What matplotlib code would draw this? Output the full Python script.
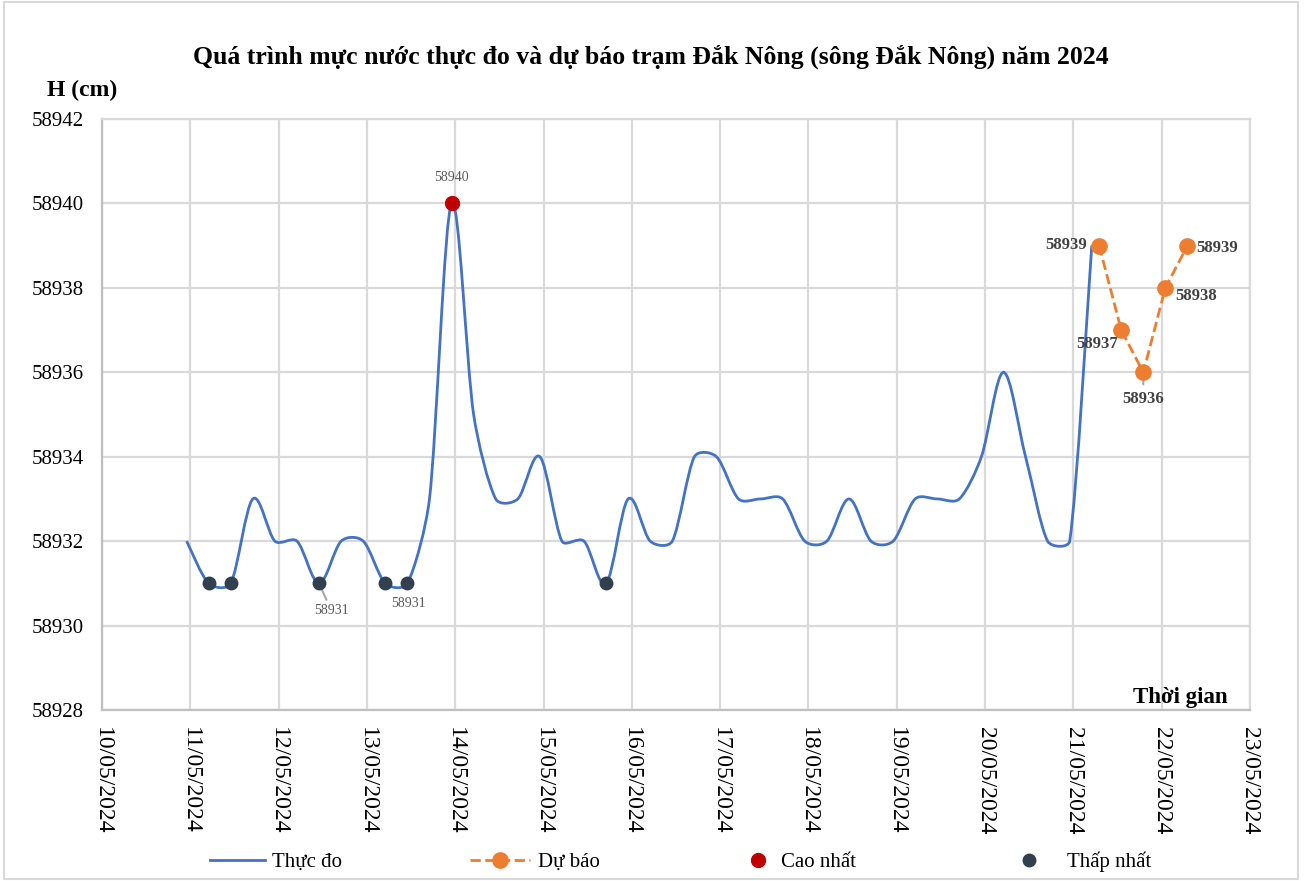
import numpy as np
import pandas as pd
import matplotlib
matplotlib.use("Agg")
from matplotlib import pyplot as plt
import matplotlib.dates as mdates
from matplotlib.path import Path
from matplotlib.patches import PathPatch, Rectangle
from matplotlib.lines import Line2D

plt.rcParams['font.family'] = ['Liberation Serif', 'DejaVu Serif']

# observed water level, every 6 hours
obs_start = "2024-05-10 23:00"
obs_values = [58932, 58931, 58931, 58933, 58932, 58932, 58931, 58932, 58932, 58931,
              58931, 58933, 58940, 58935, 58933, 58933, 58934, 58932, 58932, 58931,
              58933, 58932, 58932, 58934, 58934, 58933, 58933, 58933, 58932, 58932,
              58933, 58932, 58932, 58933, 58933, 58933, 58934, 58936, 58934, 58932,
              58932, 58939]

# forecast
fc_start = "2024-05-21 07:00"
fc_values = [58939, 58937, 58936, 58938, 58939]

title = "Quá trình mực nước thực đo và dự báo trạm Đắk Nông (sông Đắk Nông) năm 2024"
legend_labels = ["Thực đo", "Dự báo", "Cao nhất", "Thấp nhất"]

obs_t = pd.date_range(obs_start, periods=len(obs_values), freq="6h")
fc_t = pd.date_range(fc_start, periods=len(fc_values), freq="6h")
obs_x = mdates.date2num(obs_t.to_pydatetime())
fc_x = mdates.date2num(fc_t.to_pydatetime())
obs_y = np.array(obs_values, dtype=float)

blue = "#4472C4"
orange = "#ED7D31"
red = "#C00000"
dark = "#323F4F"

fig = plt.figure(figsize=(13.05, 8.81), dpi=100)
ax = fig.add_axes([102/1305, 1-710/881, (1250-102)/1305, (710-119)/881])
ax.set_xlim(mdates.date2num(pd.Timestamp("2024-05-10")), mdates.date2num(pd.Timestamp("2024-05-23")))
ax.set_ylim(58928, 58942)

# smoothed line like excel: catmull-rom bezier, handles clamped to a third of the segment (screen space)
pts = ax.transData.transform(np.column_stack([obs_x, obs_y]))
n = len(pts)
tang = [(pts[min(i+1, n-1)] - pts[max(i-1, 0)]) / 6 for i in range(n)]

def handle(t, seg):
    L = np.hypot(*t)
    lim = seg / 3
    return t * (lim / L) if L > lim else t

verts = [tuple(pts[0])]
codes = [Path.MOVETO]
for i in range(n-1):
    seg = np.hypot(*(pts[i+1] - pts[i]))
    c1 = pts[i] + handle(tang[i], seg)
    c2 = pts[i+1] - handle(tang[i+1], seg)
    verts += [tuple(c1), tuple(c2), tuple(pts[i+1])]
    codes += [Path.CURVE4] * 3
verts = ax.transData.inverted().transform(np.array(verts))
ax.add_patch(PathPatch(Path(verts, codes), facecolor="none", edgecolor=blue, lw=2, zorder=3))

ax.plot(fc_x, fc_values, color=orange, ls="--", lw=2, marker="o", ms=11, zorder=4)

# max / min markers
vmax = obs_y.max()
vmin = obs_y.min()
imax = np.where(obs_y == vmax)[0]
imin = np.where(obs_y == vmin)[0]
ax.plot(obs_x[imax], obs_y[imax], "o", color=red, ms=10, zorder=5)
ax.plot(obs_x[imin], obs_y[imin], "o", color=dark, ms=9, zorder=5)

gray_txt = "#595959"
ax.annotate(f"{int(vmax)}", (obs_x[imax[0]], vmax), xytext=(0, 26), textcoords="offset pixels",
            ha="center", va="center", fontsize=10, color=gray_txt)
ax.annotate(f"{int(vmin)}", (obs_x[imin[2]], vmin), xytext=(12, -27), textcoords="offset pixels",
            ha="center", va="center", fontsize=10, color=gray_txt,
            arrowprops=dict(arrowstyle="-", color="#A6A6A6", lw=1.5, shrinkA=1, shrinkB=0))
ax.annotate(f"{int(vmin)}", (obs_x[imin[4]], vmin), xytext=(1, -20), textcoords="offset pixels",
            ha="center", va="center", fontsize=10, color=gray_txt)

fc_offsets = [(-12, 1, "right"), (-3, -14, "right"), (0, -27, "center"), (10, -8, "left"), (9, -2, "left")]
for i, (dx, dy, ha) in enumerate(fc_offsets):
    kw = {}
    if i == 2:
        kw["arrowprops"] = dict(arrowstyle="-", color="#A6A6A6", lw=1.5, shrinkA=3, shrinkB=0)
    ax.annotate(f"{fc_values[i]}", (fc_x[i], fc_values[i]), xytext=(dx, dy), textcoords="offset pixels",
                ha=ha, va="center", fontsize=12, fontweight="bold", color="#404040", **kw)

# axes
ax.set_yticks(np.arange(58928, 58943, 2))
ax.yaxis.set_major_formatter(matplotlib.ticker.FuncFormatter(lambda v, p: f"{int(v)}"))
ax.xaxis.set_major_locator(mdates.DayLocator())
ax.xaxis.set_major_formatter(mdates.DateFormatter("%d/%m/%Y"))
ax.tick_params(axis="x", labelrotation=270, labelsize=17, length=0, pad=12)
ax.tick_params(axis="y", labelsize=15, length=0, pad=13)
for lbl in ax.get_xticklabels():
    lbl.set_va("top")
    lbl.set_ha("center")
ax.grid(True, color="#D9D9D9", lw=1.6)
ax.set_axisbelow(True)
for s in ["top", "right"]:
    ax.spines[s].set_color("#D9D9D9")
    ax.spines[s].set_linewidth(1.6)
for s in ["left", "bottom"]:
    ax.spines[s].set_color("#BFBFBF")
    ax.spines[s].set_linewidth(1.6)

fig.text(651/1305, 1-57/881, title, ha="center", va="center", fontsize=18.5, fontweight="bold")
fig.text(82/1305, 1-90/881, "H (cm)", ha="center", va="center", fontsize=17, fontweight="bold")
ax.text(1228/1305, 1-697/881, "Thời gian", transform=fig.transFigure, ha="right", va="center",
        fontsize=16.5, fontweight="bold")

# legend entries placed one by one, like the excel layout
handles = [Line2D([], [], color=blue, lw=2),
           Line2D([], [], color=orange, lw=2, ls="--", marker="o", ms=11),
           Line2D([], [], color=red, marker="o", ls="none", ms=10),
           Line2D([], [], color=dark, marker="o", ls="none", ms=9)]
leg_x = [210, 470, 748, 1019]
leg_hl = [2.64, 2.9, 1.0, 1.0]
leg_pad = [0.35, 0.35, 0.6, 1.3]
for h, lab, x0, hl, tp in zip(handles, legend_labels, leg_x, leg_hl, leg_pad):
    lg = fig.legend([h], [lab], loc="center left", bbox_to_anchor=(x0/1305, 1-862/881),
                    frameon=False, fontsize=15, handlelength=hl, handletextpad=tp,
                    borderpad=0, borderaxespad=0)

fig.patches.append(Rectangle((4/1305, 2/881), 1294/1305, 877/881, transform=fig.transFigure,
                             fill=False, edgecolor="#D9D9D9", lw=1.5))

fig.savefig("out.png", dpi=100)
